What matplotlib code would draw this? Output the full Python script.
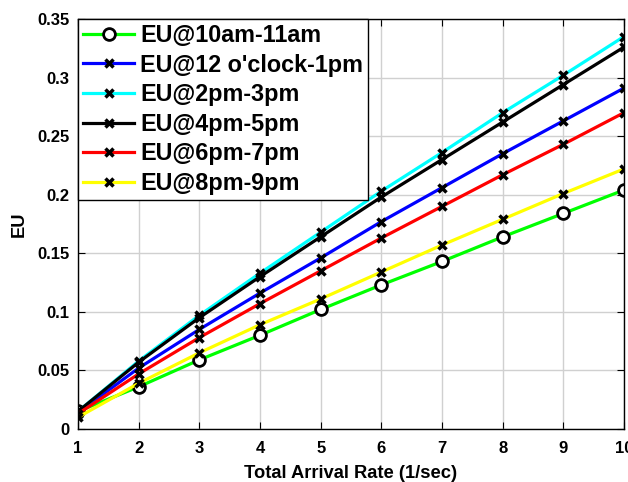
import matplotlib.pyplot as plt

plt.rcParams['font.family'] = ['Liberation Sans', 'DejaVu Sans']
plt.rcParams['font.weight'] = 'bold'

rate = [1, 2, 3, 4, 5, 6, 7, 8, 9, 10]

eu_10am = [0.015, 0.036, 0.059, 0.080, 0.102, 0.123, 0.143, 0.164, 0.184, 0.204]
eu_12pm = [0.014, 0.052, 0.085, 0.116, 0.146, 0.177, 0.206, 0.235, 0.263, 0.291]
eu_2pm = [0.015, 0.058, 0.097, 0.133, 0.168, 0.203, 0.236, 0.270, 0.302, 0.335]
eu_4pm = [0.015, 0.057, 0.095, 0.130, 0.164, 0.198, 0.230, 0.262, 0.294, 0.326]
eu_6pm = [0.013, 0.047, 0.078, 0.107, 0.135, 0.163, 0.190, 0.217, 0.243, 0.270]
eu_8pm = [0.010, 0.039, 0.065, 0.089, 0.111, 0.134, 0.157, 0.179, 0.201, 0.222]

labels = ['EU@10am-11am', "EU@12 o'clock-1pm", 'EU@2pm-3pm',
          'EU@4pm-5pm', 'EU@6pm-7pm', 'EU@8pm-9pm']
colors = ['#00ff00', '#0000ff', '#00ffff', '#000000', '#ff0000', '#ffff00']
series = [eu_10am, eu_12pm, eu_2pm, eu_4pm, eu_6pm, eu_8pm]

fig = plt.figure(figsize=(6.28, 4.82), dpi=100)
ax = fig.add_axes([0.1242, 0.110, 0.8694, 0.8506])

for vals, c, lab in zip(series, colors, labels):
    if lab == 'EU@10am-11am':
        ax.plot(rate, vals, color=c, lw=2.3, marker='o', ms=8.5,
                mfc='white', mec='black', mew=2, label=lab)
    else:
        ax.plot(rate, vals, color=c, lw=2.3, marker='x', ms=6,
                mec='black', mew=2.5, label=lab)

ax.set_xlim(1, 10)
ax.set_ylim(0, 0.35)
ax.set_xticks(rate)
ax.set_yticks([0, 0.05, 0.1, 0.15, 0.2, 0.25, 0.3, 0.35])
ax.set_yticklabels(['0', '0.05', '0.1', '0.15', '0.2', '0.25', '0.3', '0.35'])
ax.grid(True, color='#d0d0d0', lw=1)
ax.set_axisbelow(True)
ax.tick_params(direction='in', top=True, right=True, labelsize=12, length=5)
ax.tick_params(axis='x', pad=9)
ax.tick_params(axis='y', pad=6)
for s in ax.spines.values():
    s.set_linewidth(1)

ax.set_xlabel('Total Arrival Rate (1/sec)', fontsize=13.2, fontweight='bold', labelpad=6)
ax.set_ylabel('EU', fontsize=13.2, fontweight='bold', labelpad=7)

leg = ax.legend(loc='upper left', fontsize=16.8, frameon=True, fancybox=False,
                edgecolor='black', framealpha=1, borderaxespad=0,
                handlelength=2.2, labelspacing=0.28, borderpad=0.22,
                handletextpad=0.25)
leg.get_frame().set_linewidth(1)

fig.savefig('out.png', dpi=100)
